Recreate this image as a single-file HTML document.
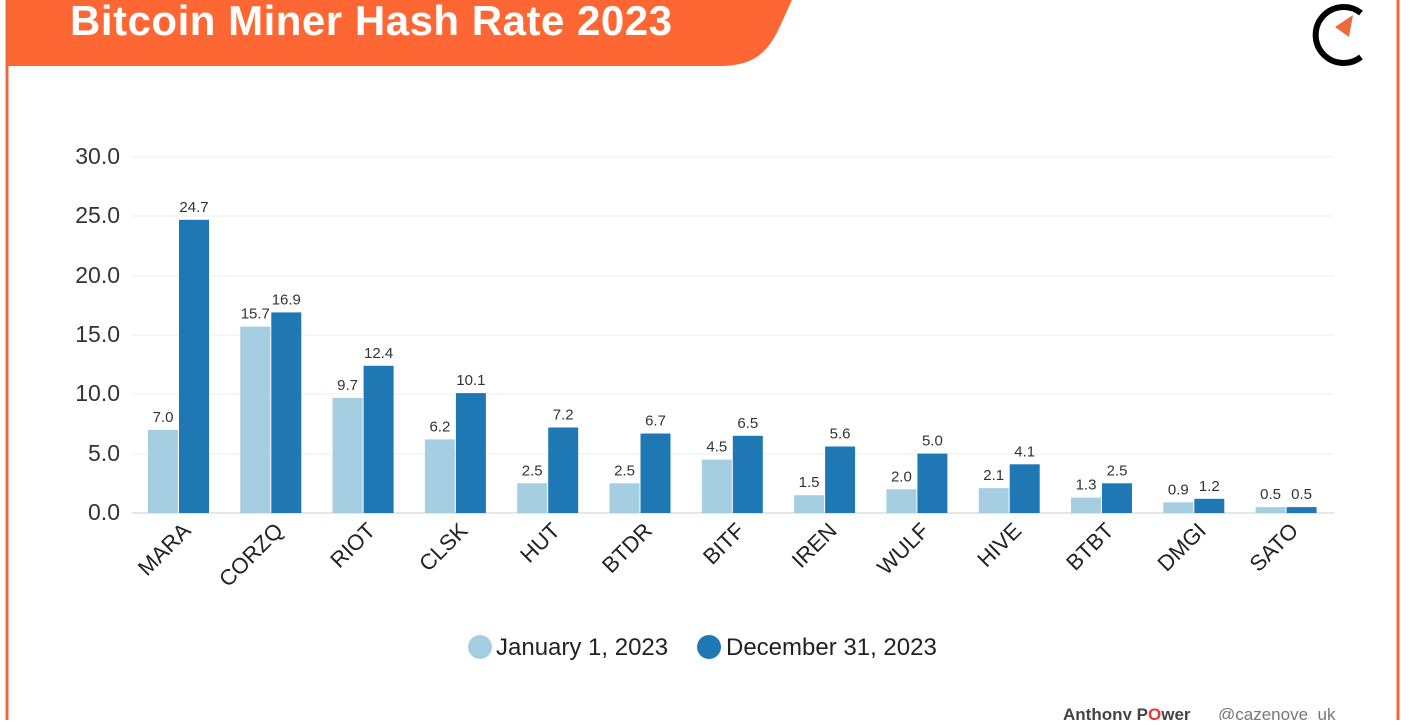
<!DOCTYPE html>
<html><head><style>
body{margin:0;width:1410px;height:720px;overflow:hidden;background:#fff;font-family:"Liberation Sans",sans-serif;}
</style></head><body>
<svg width="1410" height="720" xmlns="http://www.w3.org/2000/svg" font-family="Liberation Sans, sans-serif">
<rect x="0" y="0" width="1410" height="720" fill="#fff"/>
<path d="M7,0 V720 M1398,0 V720" stroke="#f0683a" stroke-width="3" fill="none"/>
<path d="M7,0 H792 C775,35 770,66 720,66 H7 Z" fill="#fe6734"/>
<text x="70" y="35" font-size="42" font-weight="bold" fill="#fff" textLength="602">Bitcoin Miner Hash Rate  2023</text>
<path d="M1361,13 A28,28 0 1 0 1361,57" stroke="#000" stroke-width="6" fill="none"/>
<path d="M1335,27 L1353,15 L1349,37 Z" fill="#ec6a3c"/>
<g stroke="#ececec" stroke-width="1">
<line x1="132" x2="1334" y1="157" y2="157"/><line x1="132" x2="1334" y1="216" y2="216"/><line x1="132" x2="1334" y1="276" y2="276"/><line x1="132" x2="1334" y1="335" y2="335"/><line x1="132" x2="1334" y1="394" y2="394"/><line x1="132" x2="1334" y1="454" y2="454"/>
</g>
<line x1="132" x2="1334" y1="513" y2="513" stroke="#ccc"/>
<g font-size="23" fill="#333" text-anchor="end">
<text x="120" y="164">30.0</text><text x="120" y="223">25.0</text><text x="120" y="283">20.0</text><text x="120" y="342">15.0</text><text x="120" y="401">10.0</text><text x="120" y="461">5.0</text><text x="120" y="520">0.0</text>
</g>
<g fill="#a6cee3">
<rect x="148" y="429.9" width="30" height="83.1"/>
<rect x="240.3" y="326.6" width="30" height="186.4"/>
<rect x="332.6" y="397.9" width="30" height="115.1"/>
<rect x="424.9" y="439.4" width="30" height="73.6"/>
<rect x="517.2" y="483.3" width="30" height="29.7"/>
<rect x="609.5" y="483.3" width="30" height="29.7"/>
<rect x="701.8" y="459.6" width="30" height="53.4"/>
<rect x="794.1" y="495.2" width="30" height="17.8"/>
<rect x="886.4" y="489.3" width="30" height="23.7"/>
<rect x="978.7" y="488.1" width="30" height="24.9"/>
<rect x="1071" y="497.6" width="30" height="15.4"/>
<rect x="1163.3" y="502.3" width="30" height="10.7"/>
<rect x="1255.6" y="507.1" width="30" height="5.9"/>
</g>
<g fill="#1f78b4">
<rect x="179" y="219.8" width="30" height="293.2"/>
<rect x="271.3" y="312.4" width="30" height="200.6"/>
<rect x="363.6" y="365.8" width="30" height="147.2"/>
<rect x="455.9" y="393.1" width="30" height="119.9"/>
<rect x="548.2" y="427.5" width="30" height="85.5"/>
<rect x="640.5" y="433.5" width="30" height="79.5"/>
<rect x="732.8" y="435.8" width="30" height="77.2"/>
<rect x="825.1" y="446.5" width="30" height="66.5"/>
<rect x="917.4" y="453.6" width="30" height="59.4"/>
<rect x="1009.7" y="464.3" width="30" height="48.7"/>
<rect x="1102" y="483.3" width="30" height="29.7"/>
<rect x="1194.3" y="498.8" width="30" height="14.2"/>
<rect x="1286.6" y="507.1" width="30" height="5.9"/>
</g>
<g font-size="15" fill="#333" text-anchor="middle">
<text x="163" y="422">7.0</text><text x="194" y="212">24.7</text>
<text x="255.3" y="318.6">15.7</text><text x="286.3" y="304.4">16.9</text>
<text x="347.6" y="389.9">9.7</text><text x="378.6" y="357.8">12.4</text>
<text x="439.9" y="431.4">6.2</text><text x="470.9" y="385.1">10.1</text>
<text x="532.2" y="475.3">2.5</text><text x="563.2" y="419.5">7.2</text>
<text x="624.5" y="475.3">2.5</text><text x="655.5" y="425.5">6.7</text>
<text x="716.8" y="451.6">4.5</text><text x="747.8" y="427.8">6.5</text>
<text x="809.1" y="487.2">1.5</text><text x="840.1" y="438.5">5.6</text>
<text x="901.4" y="481.3">2.0</text><text x="932.4" y="445.6">5.0</text>
<text x="993.7" y="480.1">2.1</text><text x="1024.7" y="456.3">4.1</text>
<text x="1086" y="489.6">1.3</text><text x="1117" y="475.3">2.5</text>
<text x="1178.3" y="494.3">0.9</text><text x="1209.3" y="490.8">1.2</text>
<text x="1270.6" y="499.1">0.5</text><text x="1301.6" y="499.1">0.5</text>
</g>
<g font-size="22" fill="#222" text-anchor="end">
<text transform="translate(192,532) rotate(-45)">MARA</text>
<text transform="translate(284.3,532) rotate(-45)">CORZQ</text>
<text transform="translate(376.6,532) rotate(-45)">RIOT</text>
<text transform="translate(468.9,532) rotate(-45)">CLSK</text>
<text transform="translate(561.2,532) rotate(-45)">HUT</text>
<text transform="translate(653.5,532) rotate(-45)">BTDR</text>
<text transform="translate(745.8,532) rotate(-45)">BITF</text>
<text transform="translate(838.1,532) rotate(-45)">IREN</text>
<text transform="translate(930.4,532) rotate(-45)">WULF</text>
<text transform="translate(1022.7,532) rotate(-45)">HIVE</text>
<text transform="translate(1115,532) rotate(-45)">BTBT</text>
<text transform="translate(1207.3,532) rotate(-45)">DMGI</text>
<text transform="translate(1299.6,532) rotate(-45)">SATO</text>
</g>
<g font-size="24" fill="#222">
<circle cx="480" cy="647" r="12" fill="#a6cee3"/><text x="496" y="655">January 1, 2023</text>
<circle cx="709" cy="647" r="12" fill="#1f78b4"/><text x="726" y="655">December 31, 2023</text>
</g>
<text x="1063" y="720" font-size="17" font-weight="bold" fill="#444">Anthony P<tspan fill="#e33">O</tspan>wer</text>
<text x="1218" y="720" font-size="17" fill="#777">@cazenove_uk</text>
</svg>
</body></html>
